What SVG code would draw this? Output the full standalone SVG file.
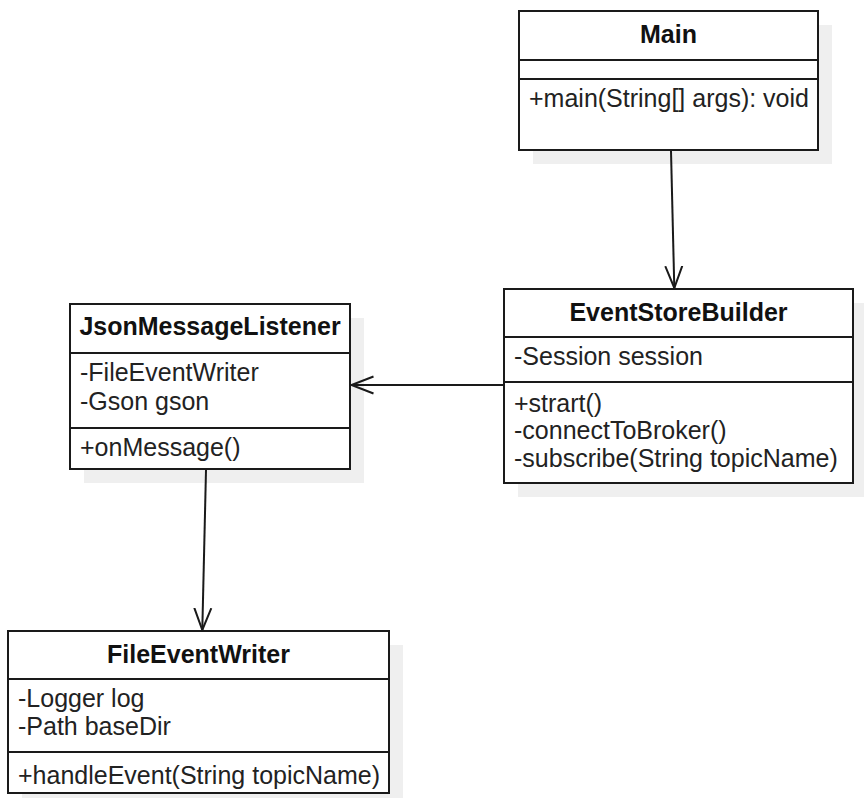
<svg xmlns="http://www.w3.org/2000/svg" width="864" height="798" viewBox="0 0 864 798">
<defs>
<style>
.shadow{fill:#efefef;stroke:none}
.box{fill:#ffffff;stroke:#1a1a1a;stroke-width:2}
.sep{stroke:#1a1a1a;stroke-width:2;fill:none}
.title{font-family:"Liberation Sans",Arial,sans-serif;font-size:25px;font-weight:bold;fill:#111;text-anchor:middle}
.txt{font-family:"Liberation Sans",Arial,sans-serif;font-size:25px;fill:#222}
.conn{stroke:#1a1a1a;stroke-width:2;fill:none}
</style>
<marker id="open" viewBox="0 0 24 20" refX="22" refY="10" markerWidth="24" markerHeight="20" markerUnits="userSpaceOnUse" orient="auto">
<path d="M0,1.5 L22,10 L0,18.5" fill="none" stroke="#1a1a1a" stroke-width="2"/>
</marker>
</defs>
<rect width="864" height="798" fill="#ffffff"/>

<g id="Main">
<rect class="shadow" x="533" y="25" width="299" height="139"/>
<rect class="box" x="519" y="11" width="299" height="139"/>
<line class="sep" x1="519" y1="60" x2="818" y2="60"/>
<line class="sep" x1="519" y1="79" x2="818" y2="79"/>
<text class="title" x="668.5" y="43">Main</text>
<text class="txt" x="529" y="107">+main(String[] args): void</text>
</g>

<g id="EventStoreBuilder">
<rect class="shadow" x="518" y="303" width="349" height="194"/>
<rect class="box" x="504" y="289" width="349" height="194"/>
<line class="sep" x1="504" y1="337" x2="853" y2="337"/>
<line class="sep" x1="504" y1="382" x2="853" y2="382"/>
<text class="title" x="678.5" y="321">EventStoreBuilder</text>
<text class="txt" x="514" y="365">-Session session</text>
<text class="txt" x="514" y="411.5">+strart()</text>
<text class="txt" x="514" y="439">-connectToBroker()</text>
<text class="txt" x="514" y="467">-subscribe(String topicName)</text>
</g>

<g id="JsonMessageListener">
<rect class="shadow" x="84" y="318" width="280" height="165"/>
<rect class="box" x="70" y="304" width="280" height="165"/>
<line class="sep" x1="70" y1="353" x2="350" y2="353"/>
<line class="sep" x1="70" y1="428" x2="350" y2="428"/>
<text class="title" x="210" y="335">JsonMessageListener</text>
<text class="txt" x="80" y="381">-FileEventWriter</text>
<text class="txt" x="80" y="410">-Gson gson</text>
<text class="txt" x="80" y="456">+onMessage()</text>
</g>

<g id="FileEventWriter">
<rect class="shadow" x="22" y="645" width="381" height="162"/>
<rect class="box" x="8" y="631" width="381" height="162"/>
<line class="sep" x1="8" y1="679" x2="389" y2="679"/>
<line class="sep" x1="8" y1="752" x2="389" y2="752"/>
<text class="title" x="198.5" y="663">FileEventWriter</text>
<text class="txt" x="18" y="707">-Logger log</text>
<text class="txt" x="18" y="735">-Path baseDir</text>
<text class="txt" x="18" y="784">+handleEvent(String topicName)</text>
</g>

<g id="connectors">
<line class="conn" x1="671" y1="151" x2="674.3" y2="288" marker-end="url(#open)"/>
<line class="conn" x1="503" y1="385" x2="351.5" y2="385" marker-end="url(#open)"/>
<line class="conn" x1="206" y1="470" x2="202.3" y2="630" marker-end="url(#open)"/>
</g>
</svg>
